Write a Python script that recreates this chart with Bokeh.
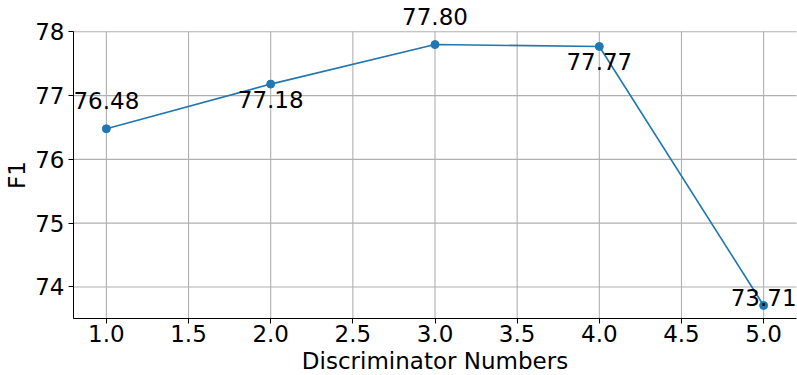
import math
from bokeh.plotting import figure
from bokeh.models import ColumnDataSource, LabelSet, Label, FixedTicker, PrintfTickFormatter, Range1d
from bokeh.core.properties import value
from bokeh.embed import file_html
from bokeh.resources import INLINE

# F1 score versus number of discriminators
disc_numbers = [1, 2, 3, 4, 5]
f1_scores = [76.48, 77.18, 77.80, 77.77, 73.71]
value_labels = ["76.48", "77.18", "77.80", "77.77", "73.71"]

# vertical placement of each value label, in screen pixels (positive = up)
label_shift = [20, -24, 20, -24, -1]

x_ticks = [1.0, 1.5, 2.0, 2.5, 3.0, 3.5, 4.0, 4.5, 5.0]
y_ticks = [74, 75, 76, 77, 78]

# axes box in data units; the plotting frame covers the whole canvas so
# that labels and titles around the box are never clipped
X_LO, X_HI = 0.8, 5.2
Y_LO, Y_HI = 73.5055, 78.0045
X_FRAME = (0.3557, 5.2061)
Y_FRAME = (72.6119, 78.4906)

FONT = "DejaVu Sans"
FSIZE = "23px"
BLUE = "#1f77b4"
GRID = "#b0b0b0"

p = figure(width=797, height=375, output_backend="svg", toolbar_location=None,
           x_range=Range1d(*X_FRAME), y_range=Range1d(*Y_FRAME))
p.min_border = 0
p.outline_line_color = None
p.background_fill_color = "white"
p.border_fill_color = "white"

# gridlines limited to the axes box
p.xgrid.visible = False
p.ygrid.visible = False
p.segment(x0=x_ticks, y0=[Y_LO] * len(x_ticks), x1=x_ticks, y1=[Y_HI] * len(x_ticks),
          line_color=GRID, line_width=1.1)
p.segment(x0=[X_LO] * len(y_ticks), y0=y_ticks, x1=[X_HI] * len(y_ticks), y1=y_ticks,
          line_color=GRID, line_width=1.1)

src = ColumnDataSource(dict(x=disc_numbers, y=f1_scores, txt=value_labels, dy=label_shift))

p.line("x", "y", source=src, line_color=BLUE, line_width=1.6)
p.scatter("x", "y", source=src, size=8, fill_color=BLUE, line_color=BLUE)

labels = LabelSet(x="x", y="y", text="txt", source=src, y_offset="dy",
                  text_align="center", text_baseline="alphabetic",
                  text_font=value(FONT), text_font_size=FSIZE, text_color="black")
p.add_layout(labels)

for ax in (p.xaxis[0], p.yaxis[0]):
    ax.axis_line_color = "black"
    ax.axis_line_width = 1
    ax.major_tick_line_color = "black"
    ax.major_tick_in = 0
    ax.major_tick_out = 5
    ax.minor_tick_line_color = None
    ax.major_label_text_font = FONT
    ax.major_label_text_font_size = FSIZE
    ax.major_label_text_color = "black"

# left and bottom spines pinned to the axes box
p.xaxis.fixed_location = Y_LO
p.xaxis.bounds = (X_LO, X_HI)
p.xaxis.ticker = FixedTicker(ticks=x_ticks)
p.xaxis.formatter = PrintfTickFormatter(format="%.1f")
p.xaxis.major_label_standoff = 2

p.yaxis.fixed_location = X_LO
p.yaxis.bounds = (Y_LO, Y_HI)
p.yaxis.ticker = FixedTicker(ticks=y_ticks)
p.yaxis.major_label_standoff = 4

# axis titles
p.add_layout(Label(x=(X_LO + X_HI) / 2, y=15, x_units="data", y_units="screen",
                   text="Discriminator Numbers", text_align="center",
                   text_baseline="alphabetic", text_font=FONT,
                   text_font_size=FSIZE, text_color="black"))
p.add_layout(Label(x=16, y=(Y_LO + Y_HI) / 2, x_units="screen", y_units="data",
                   text="F1", angle=math.pi / 2, text_align="center",
                   text_baseline="alphabetic", text_font=FONT,
                   text_font_size=FSIZE, text_color="black"))

open("out.html", "w").write(file_html(p, INLINE))
